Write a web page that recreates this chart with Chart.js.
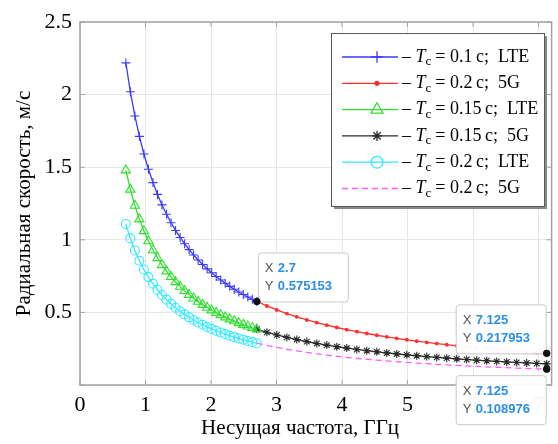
<!DOCTYPE html>
<html>
<head>
<meta charset="utf-8">
<script src="https://cdn.jsdelivr.net/npm/chart.js@4.4.1/dist/chart.umd.min.js"></script>
<style>
html, body { margin: 0; padding: 0; background: #fff; }
</style>
</head>
<body>
<canvas id="chart" width="558" height="444"></canvas>
<script>
// Carrier frequency, GHz (LTE band and 5G band)
const freqLTE = [0.7, 0.769, 0.838, 0.907, 0.976, 1.045, 1.114, 1.183, 1.252, 1.321,
    1.39, 1.459, 1.528, 1.597, 1.666, 1.734, 1.803, 1.872, 1.941, 2.01,
    2.079, 2.148, 2.217, 2.286, 2.355, 2.424, 2.493, 2.562, 2.631, 2.7];
const freq5G = [2.7, 2.853, 3.005, 3.158, 3.31, 3.463, 3.616, 3.768, 3.921, 4.073,
    4.226, 4.378, 4.531, 4.684, 4.836, 4.989, 5.141, 5.294, 5.447, 5.599,
    5.752, 5.904, 6.057, 6.21, 6.362, 6.515, 6.667, 6.82, 6.972, 7.125];

// Radial velocity, m/s
const velLTE_01 = [2.2184, 2.0194, 1.8531, 1.7121, 1.5911, 1.4860, 1.3940, 1.3127, 1.2403, 1.1756,
    1.1172, 1.0644, 1.0163, 0.9724, 0.9321, 0.8956, 0.8613, 0.8295, 0.8001, 0.7726,
    0.7470, 0.7230, 0.7005, 0.6793, 0.6594, 0.6406, 0.6229, 0.6061, 0.5902, 0.5752];
const vel5G_02 = [0.5752, 0.5443, 0.5168, 0.4917, 0.4692, 0.4484, 0.4295, 0.4121, 0.3960, 0.3813,
    0.3675, 0.3547, 0.3427, 0.3315, 0.3211, 0.3113, 0.3021, 0.2933, 0.2851, 0.2774,
    0.2700, 0.2630, 0.2564, 0.2501, 0.2441, 0.2384, 0.2329, 0.2277, 0.2227, 0.2180];
const velLTE_015 = [1.4789, 1.3463, 1.2354, 1.1414, 1.0607, 0.9907, 0.9293, 0.8751, 0.8269, 0.7837,
    0.7448, 0.7096, 0.6775, 0.6483, 0.6214, 0.5971, 0.5742, 0.5530, 0.5334, 0.5151,
    0.4980, 0.4820, 0.4670, 0.4529, 0.4396, 0.4271, 0.4153, 0.4041, 0.3935, 0.3835];
const vel5G_015 = [0.3835, 0.3629, 0.3445, 0.3278, 0.3128, 0.2989, 0.2863, 0.2747, 0.2640, 0.2542,
    0.2450, 0.2365, 0.2285, 0.2210, 0.2141, 0.2075, 0.2014, 0.1955, 0.1901, 0.1849,
    0.1800, 0.1753, 0.1709, 0.1667, 0.1627, 0.1589, 0.1553, 0.1518, 0.1485, 0.1453];
const velLTE_02 = [1.1092, 1.0097, 0.9266, 0.8561, 0.7956, 0.7430, 0.6970, 0.6564, 0.6202, 0.5878,
    0.5586, 0.5322, 0.5082, 0.4862, 0.4661, 0.4478, 0.4307, 0.4148, 0.4001, 0.3863,
    0.3735, 0.3615, 0.3503, 0.3397, 0.3297, 0.3203, 0.3115, 0.3031, 0.2951, 0.2876];
const vel5G_02b = [0.2876, 0.2722, 0.2584, 0.2459, 0.2346, 0.2242, 0.2148, 0.2061, 0.1980, 0.1907,
    0.1838, 0.1774, 0.1714, 0.1658, 0.1606, 0.1557, 0.1511, 0.1467, 0.1426, 0.1387,
    0.1350, 0.1315, 0.1282, 0.1250, 0.1221, 0.1192, 0.1165, 0.1139, 0.1114, 0.1090];

// Legend entries
const legendTc = ['0.1', '0.2', '0.15', '0.15', '0.2', '0.2'];
const legendNet = ['LTE', '5G', 'LTE', '5G', 'LTE', '5G'];

// Data tips
const tipX = [2.7, 7.125, 7.125];
const tipY = [0.575153, 0.217953, 0.108976];
const tipXLabel = ['2.7', '7.125', '7.125'];
const tipYLabel = ['0.575153', '0.217953', '0.108976'];
const tipAnchor = ['bl', 'br', 'tr'];

const yTicks = [0, 0.5, 1, 1.5, 2, 2.5];

function pts(xs, ys) {
    return xs.map((x, i) => ({ x: x, y: ys[i] }));
}

const serif = "'Liberation Serif', 'Times New Roman', serif";
const sans = "'Liberation Sans', Arial, sans-serif";

function series(data, color, style, radius, dash) {
    return {
        data: data,
        borderColor: color,
        backgroundColor: color,
        borderWidth: 1.3,
        borderDash: dash || [],
        pointStyle: style || 'circle',
        pointRadius: radius,
        pointBorderColor: color,
        pointBackgroundColor: style === 'circle' && radius < 2 ? color : 'rgba(0,0,0,0)',
        pointBorderWidth: 1.1,
        tension: 0,
        fill: false
    };
}

const datasets = [
    // data tip markers
    {
        data: pts(tipX, tipY),
        showLine: false,
        pointStyle: 'circle',
        pointRadius: 3.3,
        pointBackgroundColor: '#111',
        pointBorderColor: '#111',
        borderColor: '#111'
    },
    series(pts(freqLTE, velLTE_01), '#3a3aff', 'cross', 4.5),
    series(pts(freq5G, vel5G_02), '#ff3030', 'circle', 1.4),
    series(pts(freqLTE, velLTE_015), '#2fe02f', 'triangle', 5.3),
    series(pts(freq5G, vel5G_015), '#2a2a2a', 'star', 4),
    series(pts(freqLTE, velLTE_02), '#30eaff', 'circle', 4.5),
    series(pts(freq5G, vel5G_02b), '#ff5cff', false, 0, [6, 4])
];

// Grey box round the axes with inward ticks, data tips and legend
const axesBox = {
    id: 'axesBox',
    beforeDatasetsDraw(chart) {
        const { ctx, chartArea: a, scales } = chart;
        ctx.save();
        ctx.strokeStyle = '#a3a3a3';
        ctx.lineWidth = 1.5;
        ctx.strokeRect(a.left, a.top, a.right - a.left, a.bottom - a.top);
        ctx.lineWidth = 1;
        ctx.beginPath();
        scales.x.ticks.forEach(t => {
            const px = scales.x.getPixelForValue(t.value);
            ctx.moveTo(px, a.bottom); ctx.lineTo(px, a.bottom - 5);
            ctx.moveTo(px, a.top); ctx.lineTo(px, a.top + 5);
        });
        scales.y.ticks.forEach(t => {
            const py = scales.y.getPixelForValue(t.value);
            ctx.moveTo(a.left, py); ctx.lineTo(a.left + 5, py);
            ctx.moveTo(a.right, py); ctx.lineTo(a.right - 5, py);
        });
        ctx.stroke();
        ctx.restore();
    },
    beforeDatasetDraw(chart, args) {
        if (args.index !== 0) return;
        // data tip boxes go under their dots, over the curves
        const { ctx, scales } = chart;
        const w = 90, h = 49;
        tipX.forEach((xv, i) => {
            const px = scales.x.getPixelForValue(xv);
            const py = scales.y.getPixelForValue(tipY[i]);
            const an = tipAnchor[i];
            const bx = an[1] === 'r' ? px - w - 1 : px + 1;
            const by = an[0] === 'b' ? py - h : py + 6;
            ctx.save();
            ctx.fillStyle = 'rgba(255,255,255,0.96)';
            ctx.strokeStyle = '#c9c9c9';
            ctx.lineWidth = 1;
            ctx.beginPath();
            ctx.roundRect(bx + 0.5, by + 0.5, w, h, 3);
            ctx.fill();
            ctx.stroke();
            ctx.textBaseline = 'middle';
            ctx.font = '13px ' + sans;
            ctx.fillStyle = '#555';
            ctx.fillText('X', bx + 7, by + 16);
            ctx.fillText('Y', bx + 7, by + 34);
            ctx.font = 'bold 13px ' + sans;
            ctx.fillStyle = '#2b8fe3';
            ctx.fillText(tipXLabel[i], bx + 20, by + 16);
            ctx.fillText(tipYLabel[i], bx + 20, by + 34);
            ctx.restore();
        });
    },
    afterDraw(chart) {
        const ctx = chart.ctx;
        const lx = 331, ly = 33, lw = 213, lh = 173;
        ctx.save();
        ctx.fillStyle = '#8a8a8a';
        ctx.fillRect(lx + 3, ly + 3, lw, lh);
        ctx.fillStyle = '#fff';
        ctx.fillRect(lx, ly, lw, lh);
        ctx.strokeStyle = '#5a5a5a';
        ctx.lineWidth = 1;
        ctx.strokeRect(lx + 0.5, ly + 0.5, lw, lh);

        for (let i = 0; i < 6; i++) {
            const ds = chart.data.datasets[i + 1];
            const y = 57 + i * 26.3;
            ctx.strokeStyle = ds.borderColor;
            ctx.lineWidth = ds.borderWidth;
            ctx.setLineDash(ds.borderDash);
            ctx.beginPath();
            ctx.moveTo(342, y);
            ctx.lineTo(398, y);
            ctx.stroke();
            ctx.setLineDash([]);
            if (ds.pointRadius > 0) {
                ctx.strokeStyle = ds.pointBorderColor;
                ctx.fillStyle = ds.pointBackgroundColor;
                ctx.lineWidth = 1.3;
                Chart.helpers.drawPoint(ctx, {
                    pointStyle: ds.pointStyle,
                    radius: Math.max(ds.pointRadius * 1.3, 2),
                    rotation: 0,
                    borderWidth: 1.3
                }, 377, y);
            }
            // "– Tc = 0.1 c;  LTE"
            ctx.fillStyle = '#000';
            ctx.textBaseline = 'middle';
            let x = 402;
            ctx.font = '18px ' + serif;
            ctx.fillText('– ', x, y);
            x += ctx.measureText('– ').width;
            ctx.font = 'italic 18px ' + serif;
            ctx.fillText('T', x, y);
            x += ctx.measureText('T').width;
            ctx.font = '13px ' + serif;
            ctx.fillText('c', x, y + 5);
            x += ctx.measureText('c').width + 4;
            ctx.font = '18px ' + serif;
            const rest = '= ' + legendTc[i] + '\u2009c;  ' + legendNet[i];
            ctx.fillText(rest, x, y);
        }
        ctx.restore();
    }
};

new Chart(document.getElementById('chart').getContext('2d'), {
    type: 'line',
    data: { datasets: datasets },
    options: {
        responsive: false,
        animation: false,
        devicePixelRatio: 1,
        layout: { padding: { top: 22, right: 5, left: 0, bottom: 0 } },
        plugins: {
            legend: { display: false },
            tooltip: { enabled: false }
        },
        scales: {
            x: {
                type: 'linear',
                min: 0,
                max: 7.2,
                afterFit: s => { s.height = 59; },
                border: { display: false },
                grid: { color: '#e6e6e6', drawTicks: false },
                ticks: {
                    stepSize: 1,
                    includeBounds: false,
                    padding: 7,
                    maxRotation: 0,
                    color: '#000',
                    font: { family: serif, size: 22 }
                },
                title: {
                    display: true,
                    text: 'Несущая частота, ГГц\u2003\u2002',
                    color: '#000',
                    font: { family: serif, size: 21 },
                    padding: { top: 0, bottom: 3 }
                }
            },
            y: {
                type: 'linear',
                min: 0,
                max: 2.5,
                afterFit: s => { s.width = 80; },
                afterBuildTicks: s => { s.ticks = yTicks.map(v => ({ value: v })); },
                border: { display: false },
                grid: { color: '#e6e6e6', drawTicks: false },
                ticks: {
                    padding: 8,
                    color: '#000',
                    font: { family: serif, size: 22 },
                    callback: v => (v === 0 ? '' : String(v))
                },
                title: {
                    display: true,
                    text: 'Радиальная скорость, м/с',
                    color: '#000',
                    font: { family: serif, size: 21 },
                    padding: { top: 12, bottom: 0 }
                }
            }
        }
    },
    plugins: [axesBox]
});
</script>
</body>
</html>
